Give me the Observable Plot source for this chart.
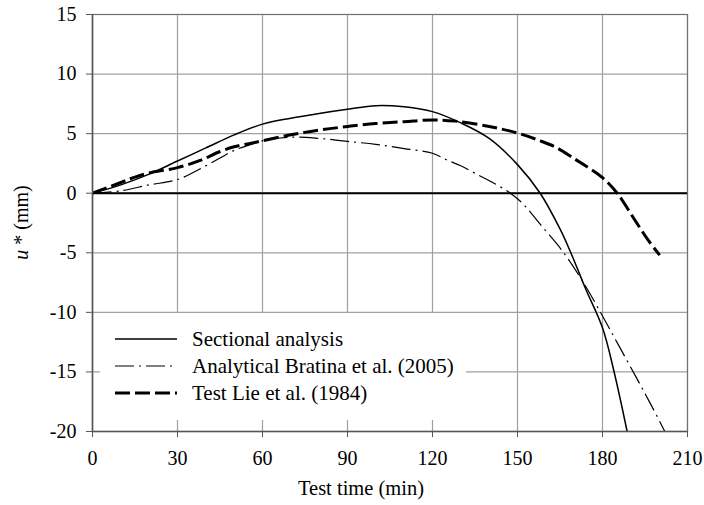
<!DOCTYPE html>
<html><head><meta charset="utf-8">
<script src="https://cdn.jsdelivr.net/npm/d3@7"></script>
<script src="https://cdn.jsdelivr.net/npm/@observablehq/plot@0.6"></script>
<style>body{margin:0;background:#fff;} svg text{font-family:'Liberation Serif','Times New Roman',serif;}</style>
</head><body><div id="chart"></div>
<script>
// Sectional analysis (solid)
const sectionalTime = [0,10,20,30,40,50,60,70,80,90,100,110,120,130,140,150,158,165,169,174,180,184,188.7];
const sectionalU    = [0,0.7,1.6,2.7,3.8,4.9,5.8,6.3,6.7,7.05,7.35,7.25,6.85,5.9,4.6,2.4,0,-3.0,-5.1,-8.0,-11.3,-14.9,-20];
// Analytical Bratina et al. (2005) (dash-dot)
const analyticalTime = [0,10,20,30,40,45,50,56,60,70,80,90,100,110,120,125,130,136,142,147.5,152,158,166,173,180,186,192,197,202];
const analyticalU    = [0,0.2,0.7,1.15,2.3,2.95,3.6,4.1,4.4,4.7,4.6,4.35,4.1,3.75,3.35,2.8,2.3,1.55,0.8,0,-0.9,-2.6,-4.9,-7.4,-10.3,-12.9,-15.5,-17.7,-20];
// Test Lie et al. (1984) (dashed)
const testTime = [0,10,15,20,30,38,45,50,56,60,70,80,90,100,110,120,128,140,150,158,164,170,174,180,185.2,191,196,200.2];
const testU    = [0,0.9,1.35,1.7,2.15,2.75,3.5,3.9,4.2,4.4,4.9,5.3,5.6,5.85,6.0,6.15,6.05,5.6,5.05,4.4,3.8,2.9,2.3,1.3,0,-2.1,-3.9,-5.2];

const seriesNames = ["Sectional analysis", "Analytical Bratina et al. (2005)", "Test Lie et al. (1984)"];
const xTicks = [0,30,60,90,120,150,180,210];
const yTicks = [-20,-15,-10,-5,0,5,10,15];
const xLabel = "Test time (min)";
const yLabelItalic = "u";
const yLabelRest = " * (mm)";

const styles = [
  {stroke:"#000", strokeWidth:1.5, dash:null},
  {stroke:"#000", strokeWidth:1.2, dash:"19,5,2,5"},
  {stroke:"#000", strokeWidth:3, dash:"15,5"}
];

const toRows = (t, u) => t.map((d, i) => ({t: d, u: u[i]}));
const data = [toRows(sectionalTime, sectionalU), toRows(analyticalTime, analyticalU), toRows(testTime, testU)];

const font = "'Liberation Serif', 'Times New Roman', serif";

const chart = Plot.plot({
  width: 704, height: 505,
  marginLeft: 92, marginRight: 17, marginTop: 14, marginBottom: 74,
  style: {fontFamily: font, fontSize: "20px", color: "#000", background: "#fff"},
  x: {domain: [0, 210]},
  y: {domain: [-20, 15]},
  marks: [
    Plot.gridX(xTicks, {stroke: "#a0a0a0", strokeOpacity: 1, strokeWidth: 1.2}),
    Plot.gridY(yTicks, {stroke: "#a0a0a0", strokeOpacity: 1, strokeWidth: 1.2}),
    Plot.frame({stroke: "#707070", strokeWidth: 1.2}),
    Plot.ruleY([0], {stroke: "#000", strokeWidth: 2}),
    ...data.map((d, i) => Plot.line(d, {x: "t", y: "u", curve: "catmull-rom",
      stroke: styles[i].stroke, strokeWidth: styles[i].strokeWidth,
      strokeDasharray: styles[i].dash, strokeLinecap: "butt"})),
    Plot.ruleX([0], {stroke: "#555", strokeWidth: 1.5}),
    Plot.ruleY([-20], {stroke: "#555", strokeWidth: 1.5}),
    Plot.axisX({ticks: xTicks, tickSize: 6, tickPadding: 13, stroke: "#555", label: null, fontFamily: font, fontVariant: "normal", fontSize: 20, tickFormat: d => String(d)}),
    Plot.axisY({ticks: yTicks, tickSize: 6, tickPadding: 10, stroke: "#555", label: null, fontFamily: font, fontVariant: "normal", fontSize: 20, tickFormat: d => String(d)}),
    Plot.text([xLabel], {frameAnchor: "bottom", dy: 57, dx: -29, lineAnchor: "middle", fontSize: 20.5, fontFamily: font})
  ]
});
document.getElementById("chart").appendChild(chart);

// Legend (white box over gridlines) and y-axis label
const svg = d3.select(chart);
const grid = chart.querySelector('[aria-label="y-grid"]');
const lg = d3.create("svg:g").attr("aria-label", "legend");
lg.append("rect").attr("x", 100).attr("y", 313).attr("width", 366).attr("height", 107).attr("fill", "#fff");
const rowY = [339, 366, 393];
seriesNames.forEach((name, i) => {
  lg.append("line").attr("x1", 115).attr("x2", 177).attr("y1", rowY[i]).attr("y2", rowY[i])
    .attr("stroke", styles[i].stroke).attr("stroke-width", styles[i].strokeWidth)
    .attr("stroke-dasharray", styles[i].dash);
  lg.append("text").attr("x", 192).attr("y", rowY[i]).attr("dy", "0.35em")
    .attr("text-anchor", "start").attr("font-family", font)
    .attr("font-size", 21).attr("fill", "#000").text(name);
});
grid.after(lg.node());

const yl = svg.append("text")
  .attr("transform", "translate(21,222.5) rotate(-90)")
  .attr("text-anchor", "middle").attr("dy", "0.35em").attr("font-family", font)
  .attr("font-size", 20).attr("fill", "#000");
yl.append("tspan").attr("font-style", "italic").text(yLabelItalic);
yl.append("tspan").text(yLabelRest);
</script>
</body></html>
